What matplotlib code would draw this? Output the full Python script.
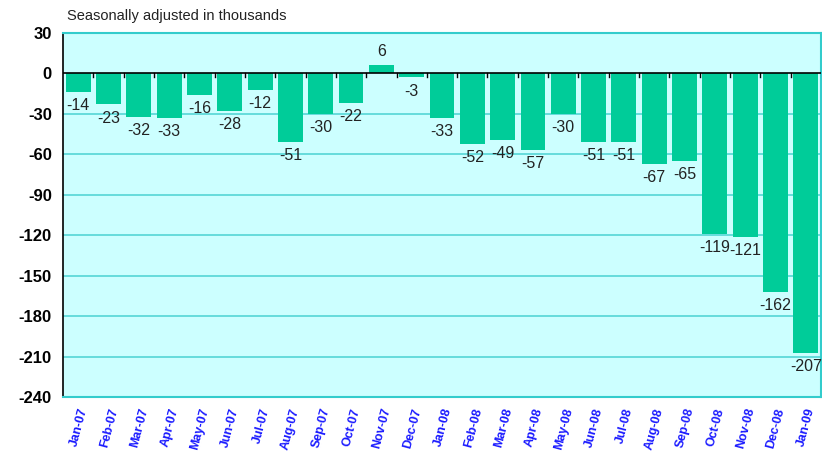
import numpy as np
import matplotlib.pyplot as plt

months = ['Jan-07', 'Feb-07', 'Mar-07', 'Apr-07', 'May-07', 'Jun-07', 'Jul-07',
          'Aug-07', 'Sep-07', 'Oct-07', 'Nov-07', 'Dec-07', 'Jan-08', 'Feb-08',
          'Mar-08', 'Apr-08', 'May-08', 'Jun-08', 'Jul-08', 'Aug-08', 'Sep-08',
          'Oct-08', 'Nov-08', 'Dec-08', 'Jan-09']
changes = [-14, -23, -32, -33, -16, -28, -12, -51, -30, -22, 6, -3, -33, -52,
           -49, -57, -30, -51, -51, -67, -65, -119, -121, -162, -207]
yticks = [30, 0, -30, -60, -90, -120, -150, -180, -210, -240]

plt.rcParams['font.family'] = ['Liberation Sans', 'DejaVu Sans']

fig = plt.figure(figsize=(8.22, 4.55), dpi=100)
ax = fig.add_axes([63 / 822, 1 - 397 / 455, 758 / 822, 364 / 455])
ax.set_facecolor('#ccffff')

x = np.arange(len(months))
ax.bar(x, changes, width=0.82, color='#00cc99', zorder=3)

# Value labels
for xi, v in zip(x, changes):
    if v >= 0:
        ax.text(xi, v + 4.5, str(v), ha='center', va='bottom', fontsize=11.5,
                color='#222222', zorder=4)
    else:
        ax.text(xi, v - 4.5, str(v), ha='center', va='top', fontsize=11.5,
                color='#222222', zorder=4)

ax.axhline(0, color='black', linewidth=1.2, zorder=4)
for t in yticks[1:-1]:
    if t != 0:
        ax.axhline(t, color='#55d6d6', linewidth=1.2, zorder=1)

ax.set_xlim(-0.5, len(months) - 0.5)
ax.set_ylim(-240, 30)
ax.set_yticks(yticks)
ax.set_yticklabels([str(t) for t in yticks], fontsize=12, fontweight='bold')
ax.tick_params(axis='y', length=0, pad=8)

ax.set_xticks(x)
ax.set_xticklabels(months, rotation=75, ha='right', rotation_mode='anchor',
                   fontsize=9, fontweight='bold', color='#1a1aff')
ax.tick_params(axis='x', length=0, pad=7)

# small tick marks along the zero line at category boundaries
for b in np.arange(0.5, len(months) - 0.5, 1.0):
    ax.plot([b, b], [0, -3], color='black', linewidth=1, zorder=4)

for side in ['top', 'right', 'bottom']:
    ax.spines[side].set_color('#33cccc')
    ax.spines[side].set_linewidth(1.5)
ax.spines['left'].set_color('black')
ax.spines['left'].set_linewidth(1.2)

fig.text(67 / 822, 1 - 16 / 455, 'Seasonally adjusted in thousands',
         fontsize=10.5, color='#222222', va='center', ha='left')

fig.savefig('out.png', dpi=100)
